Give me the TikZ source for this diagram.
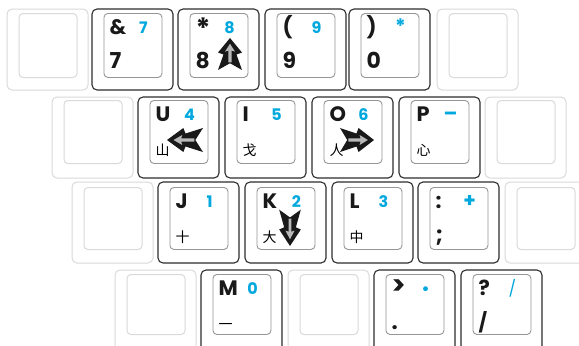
\documentclass[tikz,border=0pt]{standalone}
\usepackage{fontspec}
\setmainfont{Poppins}
\newfontfamily\cjk{Noto Sans CJK SC}
\definecolor{kcyan}{RGB}{0,168,222}
\definecolor{kdark}{RGB}{45,45,45}
\definecolor{kinner}{RGB}{150,150,150}
\definecolor{klight}{RGB}{218,218,218}
\definecolor{karrow}{RGB}{25,25,25}
\definecolor{kagray}{RGB}{185,185,185}
\tikzset{
  outerkey/.style={draw=kdark, line width=1.1bp, rounded corners=5bp},
  innerkey/.style={draw=kinner, line width=0.9bp, rounded corners=4bp, anchor=north west, inner sep=0pt, minimum width=58bp},
  lightouter/.style={draw=klight, line width=1bp, rounded corners=5bp},
  lightinner/.style={draw=klight, line width=1bp, rounded corners=4bp, anchor=north west, inner sep=0pt, minimum width=58bp},
  toplbl/.style={anchor=base west, inner sep=0pt, font=\fontsize{21}{21}\selectfont\bfseries, text=black!90},
  cyanlbl/.style={anchor=base, inner sep=0pt, font=\fontsize{16}{16}\selectfont\bfseries, text=kcyan},
  botlbl/.style={anchor=base west, inner sep=0pt, font=\fontsize{22}{22}\selectfont\bfseries, text=black!90},
  cjklbl/.style={anchor=base west, inner sep=0pt, font=\cjk\fontsize{14}{14}\selectfont, text=black},
  dart/.pic={
    \fill[karrow] (0,0) -- (12,15) -- (6.5,17) -- (12,33) -- (0,26) -- (-12,33) -- (-6.5,17) -- (-12,15) -- cycle;
    \fill[kagray] (0,6) -- (5,14) -- (1.6,13) -- (1.6,25) -- (-1.6,25) -- (-1.6,13) -- (-5,14) -- cycle;
  }
}
% #1 name, #2 outer x, #3 outer y, #4 inner y, #5 inner height, #6 top, #7 cyan, #8 bottom style, #9 bottom
\newcommand\kbkey[9]{%
  \draw[outerkey] (#2,#3) rectangle ++(81,81);
  \node[innerkey, minimum height=#5bp] (#1) at (#2+11.5,#4) {};
  \node[toplbl] (#1-top) at (#2+17.5,#4+21) {#6};
  \node[cyanlbl] (#1-cyan) at (#2+51.5,#4+20) {#7};
  \node[#8] (#1-bot) at (#2+17.5,#4+55) {#9};
}
% #1 name, #2 outer x, #3 outer y, #4 inner y, #5 inner height
\newcommand\lightkey[5]{%
  \draw[lightouter] (#2,#3) rectangle ++(81,81);
  \node[lightinner, minimum height=#5bp] (#1) at (#2+11.5,#4) {};
}
\begin{document}
\begin{tikzpicture}[x=1bp,y=-1bp]
\clip (0,0) rectangle (579,345);
\fill[white] (0,0) rectangle (579,345);
% Row 1
\lightkey{r1a}{7}{9}{13}{64}
\kbkey{k7}{92}{9}{13}{64}{\&}{7}{botlbl}{7}
\kbkey{k8}{178}{9}{13}{64}{\fontsize{28}{28}\selectfont\raisebox{-4bp}{*}}{8}{botlbl}{8}
\kbkey{k9}{265}{9}{13}{64}{(}{9}{botlbl}{9}
\kbkey{k0}{349}{9}{13}{64}{)}{\fontsize{20}{20}\selectfont *}{botlbl}{0}
\lightkey{r1b}{437}{9}{13}{64}
% Row 2
\lightkey{r2a}{52}{97}{100}{63}
\kbkey{kU}{138}{97}{100}{63}{U}{4}{cjklbl}{山}
\kbkey{kI}{225}{97}{100}{63}{I}{5}{cjklbl}{戈}
\kbkey{kO}{312}{97}{100}{63}{O}{6}{cjklbl}{人}
\kbkey{kP}{399}{97}{100}{63}{P}{\fontsize{20}{20}\selectfont –}{cjklbl}{心}
\lightkey{r2b}{485}{97}{100}{63}
% Row 3
\lightkey{r3a}{72}{182}{187}{62}
\kbkey{kJ}{158}{182}{187}{62}{J}{1}{cjklbl}{十}
\kbkey{kK}{245}{182}{187}{62}{K}{2}{cjklbl}{大}
\kbkey{kL}{332}{182}{187}{62}{L}{3}{cjklbl}{中}
\kbkey{kS}{418}{182}{187}{62}{:}{\fontsize{20}{20}\selectfont +}{botlbl}{;}
\lightkey{r3b}{505}{182}{187}{62}
% Row 4
\lightkey{r4a}{115}{270}{274}{60}
\kbkey{kM}{201}{270}{274}{60}{M}{0}{cjklbl}{一}
\lightkey{r4b}{288}{270}{274}{60}
\kbkey{kG}{374}{270}{274}{60}{\fontsize{26}{26}\selectfont\raisebox{1bp}{>}}{•}{botlbl}{.}
\kbkey{kQ}{461}{270}{274}{60}{?}{\mdseries /}{botlbl}{\fontsize{19}{19}\selectfont /}
% Arrows
\pic[yscale=0.97, xscale=1.0] at (230,38) {dart};
\pic[rotate=90, yscale=1.09] at (167,140) {dart};
\pic[rotate=-90, yscale=1.03] at (374,140) {dart};
\pic[rotate=180, yscale=1.1, xscale=0.9] at (290,246) {dart};
\end{tikzpicture}
\end{document}
